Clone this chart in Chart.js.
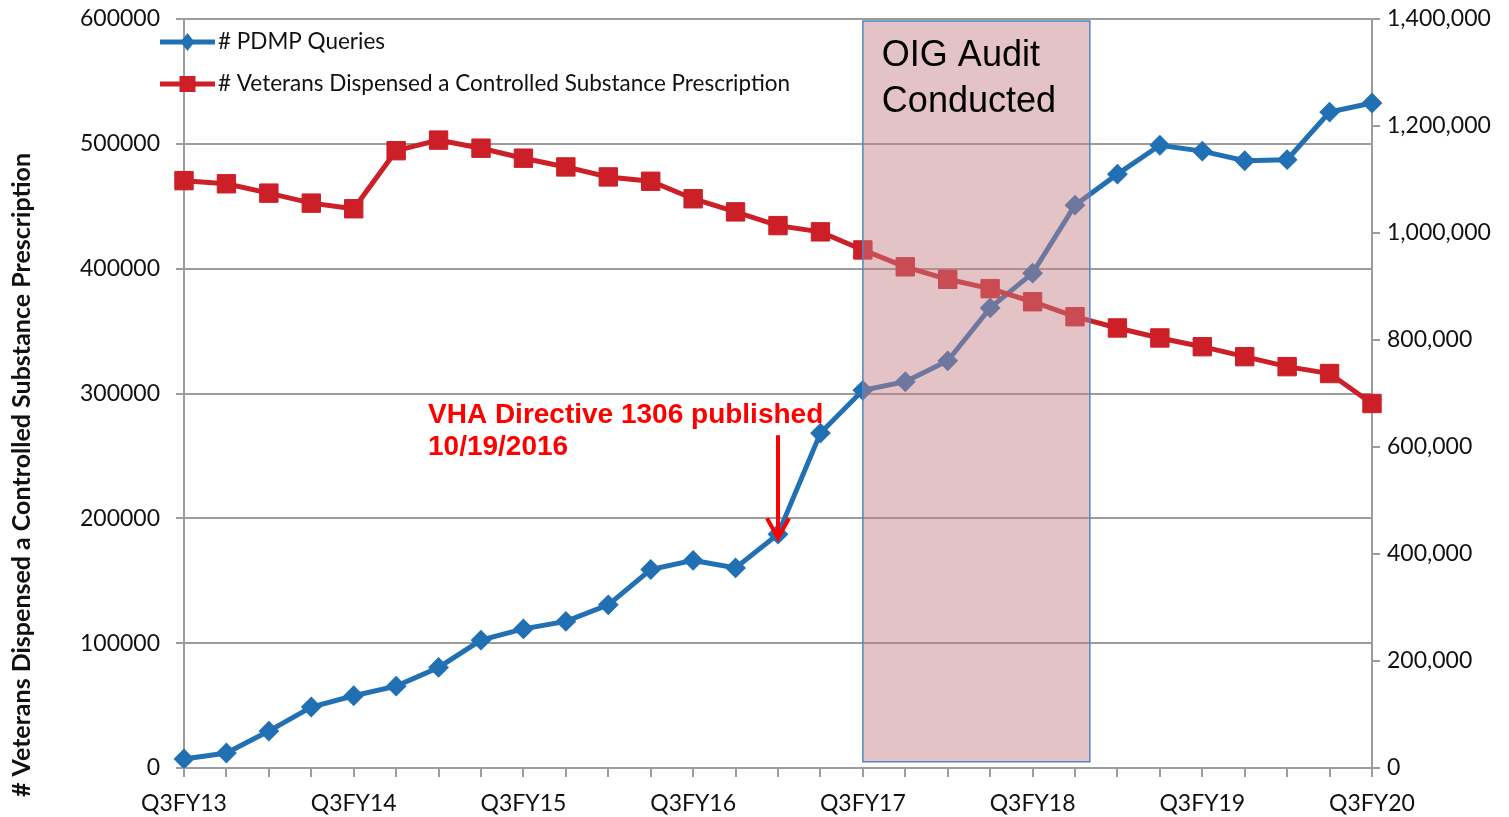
<!DOCTYPE html>
<html>
<head>
<meta charset="utf-8">
<script src="https://cdn.jsdelivr.net/npm/chart.js@4.4.1/dist/chart.umd.min.js"></script>
<style>
  html, body { margin: 0; padding: 0; background: #fff; }
  #wrap { width: 1509px; height: 817px; position: relative; }
</style>
</head>
<body>
<div id="wrap"><canvas id="pdmpChart"></canvas></div>
<script>
const quarters = [
  'Q3FY13', 'Q4FY13', 'Q1FY14', 'Q2FY14', 'Q3FY14', 'Q4FY14', 'Q1FY15', 'Q2FY15',
  'Q3FY15', 'Q4FY15', 'Q1FY16', 'Q2FY16', 'Q3FY16', 'Q4FY16', 'Q1FY17', 'Q2FY17',
  'Q3FY17', 'Q4FY17', 'Q1FY18', 'Q2FY18', 'Q3FY18', 'Q4FY18', 'Q1FY19', 'Q2FY19',
  'Q3FY19', 'Q4FY19', 'Q1FY20', 'Q2FY20', 'Q3FY20'
];

// right axis
const pdmpQueries = [
  16800, 28000, 69000, 114000, 135000, 153000, 188000, 239000,
  260000, 274000, 305000, 371000, 388000, 374000, 437000, 626000,
  706000, 722000, 761000, 860000, 925000, 1052000, 1110000, 1164000,
  1153000, 1135000, 1137000, 1226000, 1243000
];

// left axis
const veteransDispensed = [
  470500, 468000, 460500, 452500, 448000, 494500, 503000, 496500,
  488500, 481500, 473500, 470000, 456000, 445500, 434500, 429500,
  415000, 401500, 391500, 384000, 373500, 361500, 352500, 344500,
  337500, 329500, 321500, 316000, 292000
];

const seriesNames = ['# PDMP Queries', '# Veterans Dispensed a Controlled Substance Prescription'];
const yTitle = '# Veterans Dispensed a Controlled Substance Prescription';

// audit period shading, in category index units
const auditStart = 16;
const auditEnd = 21.35;
const auditText = ['OIG Audit', 'Conducted'];

// directive arrow points at this quarter
const directiveIndex = 14;
const directiveText = ['VHA Directive 1306 published', '10/19/2016'];

const BLUE = '#2270b4';
const RED = '#cc1f27';
const GRID = '#9c9c9c';
const TICK_FONT = { family: 'Lato', size: 23 };

const auditBox = {
  id: 'auditBox',
  afterDatasetsDraw(chart) {
    const { ctx, scales: { x, y } } = chart;
    const left = x.getPixelForValue(auditStart);
    const right = x.getPixelForValue(auditEnd);
    const top = chart.chartArea.top + 2;
    const bottom = y.getPixelForValue(5000);
    ctx.save();
    ctx.fillStyle = 'rgba(197, 128, 133, 0.47)';
    ctx.fillRect(left, top, right - left, bottom - top);
    ctx.strokeStyle = '#4f87c9';
    ctx.lineWidth = 1.5;
    ctx.strokeRect(left, top, right - left, bottom - top);
    ctx.fillStyle = '#000';
    ctx.font = '36px "Liberation Sans", Arial, sans-serif';
    ctx.textBaseline = 'alphabetic';
    ctx.fillText(auditText[0], left + 19, top + 45);
    ctx.fillText(auditText[1], left + 19, top + 91);
    ctx.restore();
  }
};

const extras = {
  id: 'extras',
  afterDraw(chart) {
    const { ctx, scales: { x, y1 } } = chart;

    // directive arrow + label
    const ax = x.getPixelForValue(directiveIndex);
    const tip = y1.getPixelForValue(pdmpQueries[directiveIndex]) + 6;
    const tail = tip - 105;
    ctx.save();
    ctx.strokeStyle = '#ff0000';
    ctx.fillStyle = '#ff0000';
    ctx.lineWidth = 4;
    ctx.beginPath();
    ctx.moveTo(ax, tail);
    ctx.lineTo(ax, tip - 4);
    ctx.stroke();
    ctx.lineJoin = 'miter';
    ctx.beginPath();
    ctx.moveTo(ax - 11, tip - 22);
    ctx.lineTo(ax, tip - 2);
    ctx.lineTo(ax + 11, tip - 22);
    ctx.stroke();
    ctx.font = 'bold 28px "Liberation Sans", Arial, sans-serif';
    ctx.fillText(directiveText[0], ax - 350, tail - 12);
    ctx.fillText(directiveText[1], ax - 350, tail + 20);
    ctx.restore();

    // legend
    ctx.save();
    const lx0 = 160, lx1 = 215, mid = (lx0 + lx1) / 2;
    const rows = [42, 84];
    ctx.lineWidth = 5;
    ctx.strokeStyle = BLUE;
    ctx.beginPath(); ctx.moveTo(lx0, rows[0]); ctx.lineTo(lx1, rows[0]); ctx.stroke();
    ctx.fillStyle = BLUE;
    ctx.beginPath();
    ctx.moveTo(mid, rows[0] - 9); ctx.lineTo(mid + 7, rows[0]);
    ctx.lineTo(mid, rows[0] + 9); ctx.lineTo(mid - 7, rows[0]);
    ctx.closePath(); ctx.fill();
    ctx.strokeStyle = RED;
    ctx.beginPath(); ctx.moveTo(lx0, rows[1]); ctx.lineTo(lx1, rows[1]); ctx.stroke();
    ctx.fillStyle = RED;
    ctx.fillRect(mid - 8, rows[1] - 8, 16, 16);
    ctx.fillStyle = '#111';
    ctx.font = '22.5px Lato, sans-serif';
    ctx.textBaseline = 'middle';
    ctx.fillText(seriesNames[0], 218, rows[0]);
    ctx.fillText(seriesNames[1], 218, rows[1]);
    ctx.restore();

    // left axis title
    ctx.save();
    ctx.translate(22, 475);
    ctx.rotate(-Math.PI / 2);
    ctx.font = 'bold 25px Lato, sans-serif';
    ctx.fillStyle = '#111';
    ctx.textAlign = 'center';
    ctx.textBaseline = 'middle';
    ctx.fillText(yTitle, 0, 0);
    ctx.restore();
  }
};

// fixed box sizes so the plot area sits where the original one does
const fitY = (w) => (s) => { s.width = w; s.paddingTop = 0; s.paddingBottom = 0; };

new Chart(document.getElementById('pdmpChart'), {
  type: 'line',
  data: {
    labels: quarters,
    datasets: [
      {
        label: seriesNames[0],
        data: pdmpQueries,
        yAxisID: 'y1',
        borderColor: BLUE,
        backgroundColor: BLUE,
        borderWidth: 5,
        pointStyle: 'rectRot',
        pointRadius: 9,
        pointBorderWidth: 2,
        tension: 0,
        order: 1
      },
      {
        label: seriesNames[1],
        data: veteransDispensed,
        yAxisID: 'y',
        borderColor: RED,
        backgroundColor: RED,
        borderWidth: 5,
        pointStyle: 'rect',
        pointRadius: 13,
        pointBorderWidth: 1,
        tension: 0,
        order: 0
      }
    ]
  },
  options: {
    responsive: true,
    maintainAspectRatio: false,
    animation: false,
    layout: { padding: { top: 19, left: 0, right: 0, bottom: 0 } },
    plugins: {
      legend: { display: false },
      tooltip: { enabled: false }
    },
    scales: {
      x: {
        offset: false,
        grid: { drawOnChartArea: false, color: GRID, lineWidth: 2, tickLength: 9 },
        border: { color: GRID, width: 2 },
        ticks: {
          autoSkip: false,
          maxRotation: 0,
          padding: 13,
          color: '#111',
          font: TICK_FONT,
          callback: (v, i) => (i % 4 === 0 ? quarters[i] : '')
        },
        afterFit: (s) => { s.height = 49; }
      },
      y: {
        position: 'left',
        min: 0,
        max: 600000,
        grid: { color: GRID, lineWidth: 2, tickLength: 8 },
        border: { color: GRID, width: 2 },
        ticks: {
          stepSize: 100000,
          padding: 16,
          color: '#111',
          font: TICK_FONT,
          callback: (v) => String(v)
        },
        afterFit: fitY(184)
      },
      y1: {
        position: 'right',
        min: 0,
        max: 1400000,
        grid: { drawOnChartArea: false, color: GRID, lineWidth: 2, tickLength: 8 },
        border: { color: GRID, width: 2 },
        ticks: {
          stepSize: 200000,
          padding: 7,
          color: '#111',
          font: TICK_FONT,
          callback: (v) => v.toLocaleString('en-US')
        },
        afterFit: fitY(137)
      }
    }
  },
  plugins: [auditBox, extras]
});
</script>
</body>
</html>
